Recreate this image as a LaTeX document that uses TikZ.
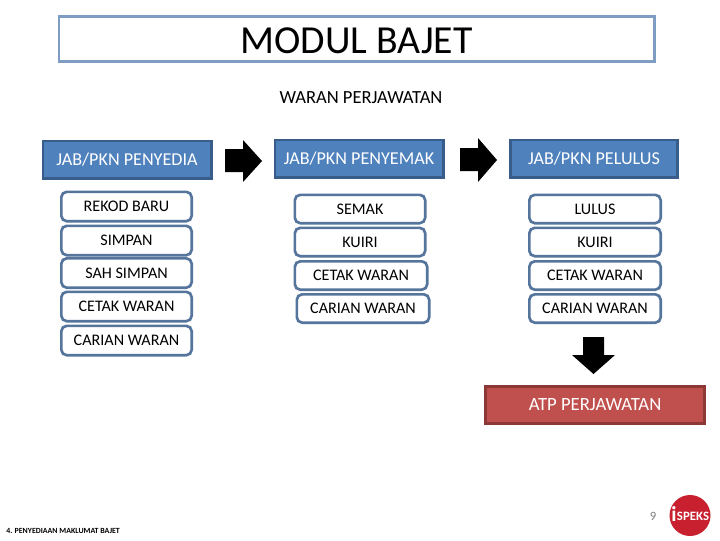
\documentclass[tikz,border=0pt]{standalone}
\usepackage{fontspec}
\setmainfont{Carlito}
\definecolor{titleb}{HTML}{7F9DC3}
\definecolor{blf}{HTML}{4F81BD}
\definecolor{bld}{HTML}{385D8A}
\definecolor{rdf}{HTML}{C0504D}
\definecolor{rdd}{HTML}{8C3836}
\definecolor{logor}{HTML}{C8202F}
\tikzset{x=0.75pt,y=-0.75pt,
  head/.style={draw=bld,fill=blf,line width=2.2pt,text=white,font=\fontsize{13.6pt}{15pt}\selectfont,inner sep=0pt},
  act/.style={draw=bld!85!white,fill=white,line width=2pt,rounded corners=4pt,font=\fontsize{12.1pt}{14pt}\selectfont,inner sep=0pt},
  red/.style={draw=rdd,fill=rdf,line width=2.2pt,text=white,font=\fontsize{14pt}{16pt}\selectfont,inner sep=0pt},
  blockarrow/.style={fill=black,draw=none}}
\newcommand{\bx}[8]{\node[#1,minimum width=#4*0.75pt-#8,minimum height=#5*0.75pt-#8] (#2) at (#6,#7) {\raisebox{-0.7pt}{#3}};}
\begin{document}
\begin{tikzpicture}
\useasboundingbox (0,0) rectangle (720,540);
\fill[white] (0,0) rectangle (720,540);
\node[draw=titleb,line width=2.2pt,minimum width=598*0.75pt-2.2pt,minimum height=48*0.75pt-2.2pt,inner sep=0pt] (title) at (356.5,39) {};
\node[font=\fontsize{29.8pt}{32pt}\selectfont] (titlet) at (356.5,41) {MODUL BAJET};
\node[font=\fontsize{13.9pt}{15pt}\selectfont] (sub) at (361,98) {WARAN PERJAWATAN};
% headers
\bx{head}{h1}{JAB/PKN PENYEDIA}{171}{40}{127}{159.5}{2.2pt}
\bx{head}{h2}{JAB/PKN PENYEMAK}{171}{40}{359}{158.5}{2.2pt}
\bx{head}{h3}{JAB/PKN PELULUS}{170}{40}{594}{158.5}{2.2pt}
% column 1
\bx{act}{a1}{REKOD BARU}{133}{32}{126.5}{206.5}{2pt}
\bx{act}{a2}{SIMPAN}{133}{32}{126.5}{240.5}{2pt}
\bx{act}{a3}{SAH SIMPAN}{133}{32}{126.5}{273}{2pt}
\bx{act}{a4}{CETAK WARAN}{133}{32}{126.5}{306.5}{2pt}
\bx{act}{a5}{CARIAN WARAN}{133}{32}{126.5}{340.5}{2pt}
% column 2
\bx{act}{b1}{SEMAK}{133}{31}{360}{209}{2pt}
\bx{act}{b2}{KUIRI}{133}{31}{360}{242}{2pt}
\bx{act}{b3}{CETAK WARAN}{135}{31}{361}{275.5}{2pt}
\bx{act}{b4}{CARIAN WARAN}{135}{31}{363}{308.5}{2pt}
% column 3
\bx{act}{c1}{LULUS}{134}{31}{595}{209}{2pt}
\bx{act}{c2}{KUIRI}{134}{31}{595}{242}{2pt}
\bx{act}{c3}{CETAK WARAN}{134}{31}{595}{275.5}{2pt}
\bx{act}{c4}{CARIAN WARAN}{134}{31}{595}{308.5}{2pt}
% result
\bx{red}{r}{ATP PERJAWATAN}{222}{40}{595}{405}{2.2pt}
% block arrows
\fill[blockarrow] (225,149)--(243,149)--(243,140)--(262,161)--(243,182)--(243,172)--(225,172)--cycle;
\fill[blockarrow] (460,148)--(478,148)--(478,138)--(497,160)--(478,182)--(478,171)--(460,171)--cycle;
\fill[blockarrow] (583,337)--(604,337)--(604,355)--(615,355)--(593.5,374)--(572,355)--(583,355)--cycle;
% footer
\node[text=black!50,font=\fontsize{9.5pt}{11pt}\selectfont] (pg) at (653,516) {9};
\node[anchor=west,inner sep=0pt,font=\bfseries\fontsize{5.9pt}{7pt}\selectfont] (ft) at (6,531) {4. PENYEDIAAN MAKLUMAT BAJET};
\fill[logor] (690,515.5) circle[radius=20.5];
\node[text=white,font=\bfseries\fontsize{9.6pt}{10pt}\selectfont,inner sep=0pt] (lg1) at (693,516) {SPEKS};
\node[text=white,font=\bfseries\fontsize{16pt}{16pt}\selectfont,inner sep=0pt] (lg2) at (674,514.5) {i};
\end{tikzpicture}
\end{document}
